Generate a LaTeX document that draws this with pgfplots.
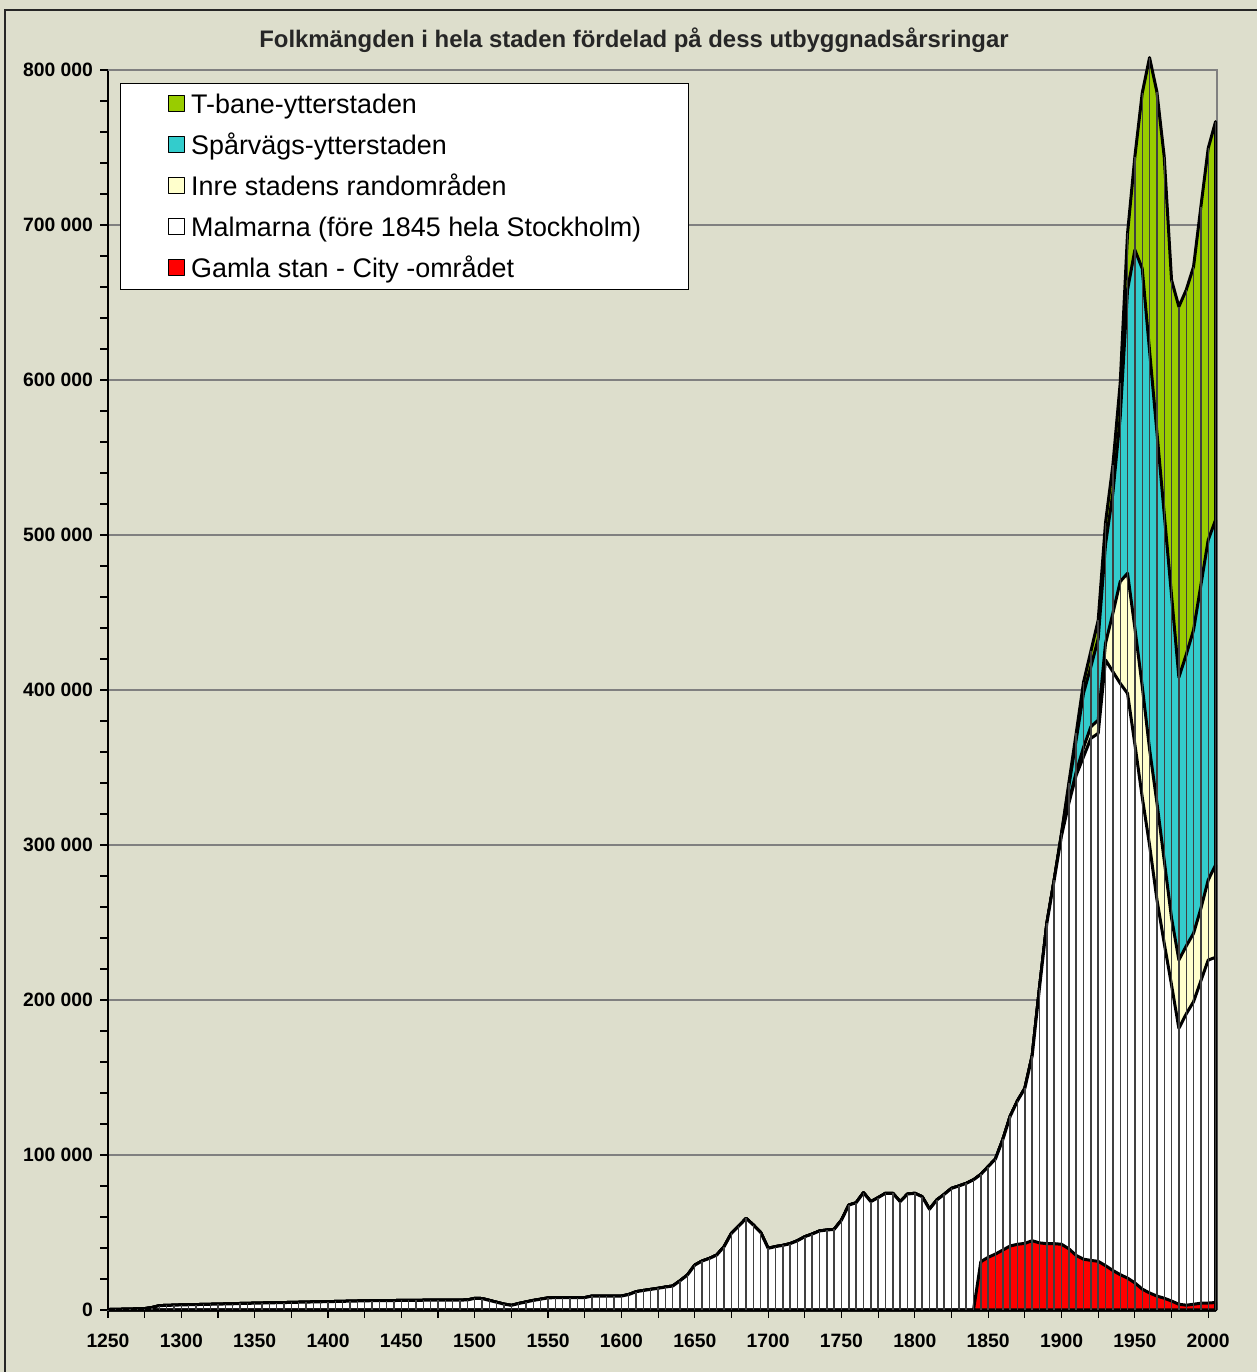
\documentclass[border=0pt]{standalone}
\usepackage{fontspec}
\setmainfont{Liberation Sans}
\usepackage{pgfplots}
\pgfplotsset{compat=1.18}
\usepackage{pgfplotstable}
\definecolor{bgk}{RGB}{221,222,204}
\definecolor{cgreen}{RGB}{153,204,0}
\definecolor{cteal}{RGB}{51,204,204}
\definecolor{cyel}{RGB}{255,255,204}
\definecolor{cred}{RGB}{255,0,0}
\definecolor{gridg}{RGB}{128,128,128}

\pgfplotstableread{
year red wtop ytop ttop total
1250 0 300 300 300 300
1255 0 400 400 400 400
1260 0 500 500 500 500
1265 0 600 600 600 600
1270 0 700 700 700 700
1275 0 900 900 900 900
1280 0 1600 1600 1600 1600
1285 0 2800 2800 2800 2800
1290 0 3000 3000 3000 3000
1295 0 3100 3100 3100 3100
1300 0 3300 3300 3300 3300
1305 0 3400 3400 3400 3400
1310 0 3500 3500 3500 3500
1315 0 3600 3600 3600 3600
1320 0 3700 3700 3700 3700
1325 0 3800 3800 3800 3800
1330 0 3900 3900 3900 3900
1335 0 4000 4000 4000 4000
1340 0 4200 4200 4200 4200
1345 0 4300 4300 4300 4300
1350 0 4400 4400 4400 4400
1355 0 4500 4500 4500 4500
1360 0 4600 4600 4600 4600
1365 0 4700 4700 4700 4700
1370 0 4800 4800 4800 4800
1375 0 4900 4900 4900 4900
1380 0 5000 5000 5000 5000
1385 0 5100 5100 5100 5100
1390 0 5200 5200 5200 5200
1395 0 5300 5300 5300 5300
1400 0 5400 5400 5400 5400
1405 0 5500 5500 5500 5500
1410 0 5600 5600 5600 5600
1415 0 5700 5700 5700 5700
1420 0 5800 5800 5800 5800
1425 0 5900 5900 5900 5900
1430 0 6000 6000 6000 6000
1435 0 6000 6000 6000 6000
1440 0 6100 6100 6100 6100
1445 0 6100 6100 6100 6100
1450 0 6200 6200 6200 6200
1455 0 6200 6200 6200 6200
1460 0 6200 6200 6200 6200
1465 0 6300 6300 6300 6300
1470 0 6300 6300 6300 6300
1475 0 6300 6300 6300 6300
1480 0 6300 6300 6300 6300
1485 0 6400 6400 6400 6400
1490 0 6400 6400 6400 6400
1495 0 6500 6500 6500 6500
1500 0 7500 7500 7500 7500
1505 0 7400 7400 7400 7400
1510 0 6200 6200 6200 6200
1515 0 5000 5000 5000 5000
1520 0 3800 3800 3800 3800
1525 0 3000 3000 3000 3000
1530 0 4200 4200 4200 4200
1535 0 5200 5200 5200 5200
1540 0 6200 6200 6200 6200
1545 0 7000 7000 7000 7000
1550 0 7800 7800 7800 7800
1555 0 8000 8000 8000 8000
1560 0 8000 8000 8000 8000
1565 0 8000 8000 8000 8000
1570 0 8000 8000 8000 8000
1575 0 8000 8000 8000 8000
1580 0 9000 9000 9000 9000
1585 0 9000 9000 9000 9000
1590 0 9000 9000 9000 9000
1595 0 9000 9000 9000 9000
1600 0 9000 9000 9000 9000
1605 0 10000 10000 10000 10000
1610 0 11800 11800 11800 11800
1615 0 12600 12600 12600 12600
1620 0 13300 13300 13300 13300
1625 0 14000 14000 14000 14000
1630 0 14800 14800 14800 14800
1635 0 15500 15500 15500 15500
1640 0 18900 18900 18900 18900
1645 0 22600 22600 22600 22600
1650 0 29000 29000 29000 29000
1655 0 31600 31600 31600 31600
1660 0 33300 33300 33300 33300
1665 0 35500 35500 35500 35500
1670 0 40900 40900 40900 40900
1675 0 49500 49500 49500 49500
1680 0 54200 54200 54200 54200
1685 0 59100 59100 59100 59100
1690 0 54800 54800 54800 54800
1695 0 49900 49900 49900 49900
1700 0 39800 39800 39800 39800
1705 0 40900 40900 40900 40900
1710 0 41700 41700 41700 41700
1715 0 42800 42800 42800 42800
1720 0 44700 44700 44700 44700
1725 0 47300 47300 47300 47300
1730 0 49000 49000 49000 49000
1735 0 51000 51000 51000 51000
1740 0 51600 51600 51600 51600
1745 0 52000 52000 52000 52000
1750 0 58000 58000 58000 58000
1755 0 67700 67700 67700 67700
1760 0 69200 69200 69200 69200
1765 0 75700 75700 75700 75700
1770 0 69900 69900 69900 69900
1775 0 72500 72500 72500 72500
1780 0 75300 75300 75300 75300
1785 0 75300 75300 75300 75300
1790 0 69900 69900 69900 69900
1795 0 74800 74800 74800 74800
1800 0 75300 75300 75300 75300
1805 0 73100 73100 73100 73100
1810 0 65000 65000 65000 65000
1815 0 71000 71000 71000 71000
1820 0 74600 74600 74600 74600
1825 0 78500 78500 78500 78500
1830 0 80000 80000 80000 80000
1835 0 81700 81700 81700 81700
1840 0 84000 84000 84000 84000
1845 31200 87500 87500 87500 87500
1850 34000 92500 92500 92500 92500
1855 36100 97500 97500 97500 97500
1860 38700 110000 110000 110000 110000
1865 41300 125000 125000 125000 125000
1870 42400 135000 135000 135000 135000
1875 43000 143000 143000 143000 143000
1880 44700 164000 164000 164000 164000
1885 43300 208000 208000 208000 208000
1890 42800 249500 249500 249500 249500
1895 42800 277400 277400 277400 277400
1900 42400 306000 306000 307500 307500
1905 39500 327000 328000 338000 340000
1910 35200 345000 347000 368000 372000
1915 32800 357000 363000 398000 405000
1920 32000 368800 376300 415000 425000
1925 31400 372000 380600 433000 445000
1930 28600 419400 430100 494000 508000
1935 25500 411800 449500 527000 545000
1940 22800 404300 469900 576000 598000
1945 20600 397800 475300 658100 694600
1950 17500 365000 440000 683900 744100
1955 13500 331000 402600 672000 785000
1960 11000 300000 362000 619000 808000
1965 9000 265000 327500 566600 786000
1970 7600 236600 290100 513800 744100
1975 5800 209700 252900 461000 664500
1980 3700 181700 225800 408200 647300
1985 3100 191000 234800 422800 658100
1990 3700 198900 243000 438700 673100
1995 4400 212400 259000 467700 711800
2000 4500 225800 277400 496800 749500
2005 4800 227500 287100 509700 766700
}\data

\begin{document}
\begin{tikzpicture}
\useasboundingbox (0bp,0bp) rectangle (628.5bp,686bp);
\fill[bgk] (0bp,0bp) rectangle (628.5bp,686bp);
\draw[black!85, line width=1.2bp] (2.5bp,0bp) -- (2.5bp,681bp) -- (628.5bp,681bp);
\node[font=\bfseries\fontsize{12}{14}\selectfont, text=black!85] at (317bp,666bp)
  {Folkmängden i hela staden fördelad på dess utbyggnadsårsringar};
\begin{axis}[
  at={(54bp,31bp)}, anchor=south west,
  scale only axis, width=554.5bp, height=620bp,
  xmin=1250, xmax=2006, ymin=0, ymax=800000,
  clip=false,
  scaled y ticks=false, scaled x ticks=false,
  axis x line*=bottom, axis y line*=left,
  axis line style={black, line width=1.2bp},
  every outer x axis line/.append style={-}, every outer y axis line/.append style={-},
  xtick={1250,1300,...,2000},
  xticklabels={1250,1300,1350,1400,1450,1500,1550,1600,1650,1700,1750,1800,1850,1900,1950,2000},
  minor xtick={1275,1325,...,1975},
  ytick={0,100000,...,800000},
  yticklabels={0,100 000,200 000,300 000,400 000,500 000,600 000,700 000,800 000},
  minor y tick num=4,
  tick align=outside,
  major tick length=4bp, minor tick length=4bp,
  tick style={black, line width=0.6bp},
  ticklabel style={font=\bfseries\fontsize{9.7}{11}\selectfont, text=black},
  xticklabel style={yshift=-4.5bp},
  ymajorgrids, major grid style={gridg, line width=0.75bp},
  legend cell align=left,
  legend image code/.code={\draw[#1, line width=0.8bp] (0bp,-3.4bp) rectangle (8bp,4.6bp);},
  legend style={at={(0.0108,0.9895)}, anchor=north west, draw=black, line width=0.6bp, fill=white,
    font=\fontsize{13.5}{15}\selectfont, inner xsep=23.5bp, inner ysep=4bp, row sep=7.5bp,
    nodes={inner sep=0pt, text height=11bp, text depth=2bp},
    /tikz/every odd column/.append style={column sep=3bp}},
]
\draw[gridg, line width=1bp] (rel axis cs:0,1) -- (rel axis cs:1,1) -- (rel axis cs:1,0);
\addplot[fill=cgreen, draw=black, line width=1.5bp, line join=round] table[x=year,y=total] {\data} \closedcycle;
\addlegendentry{T-bane-ytterstaden}
\addplot[fill=cteal, draw=black, line width=1.5bp, line join=round] table[x=year,y=ttop] {\data} \closedcycle;
\addlegendentry{Spårvägs-ytterstaden}
\addplot[fill=cyel, draw=black, line width=1.5bp, line join=round] table[x=year,y=ytop] {\data} \closedcycle;
\addlegendentry{Inre stadens randområden}
\addplot[fill=white, draw=black, line width=1.5bp, line join=round] table[x=year,y=wtop] {\data} \closedcycle;
\addlegendentry{Malmarna (före 1845 hela Stockholm)}
\addplot[fill=cred, draw=black, line width=1.5bp, line join=round] table[x=year,y=red] {\data} \closedcycle;
\addlegendentry{Gamla stan - City -området}
\addplot[ycomb, black!75, line width=0.7bp, mark=none, forget plot] table[x=year,y=total] {\data};
\end{axis}
\end{tikzpicture}
\end{document}
